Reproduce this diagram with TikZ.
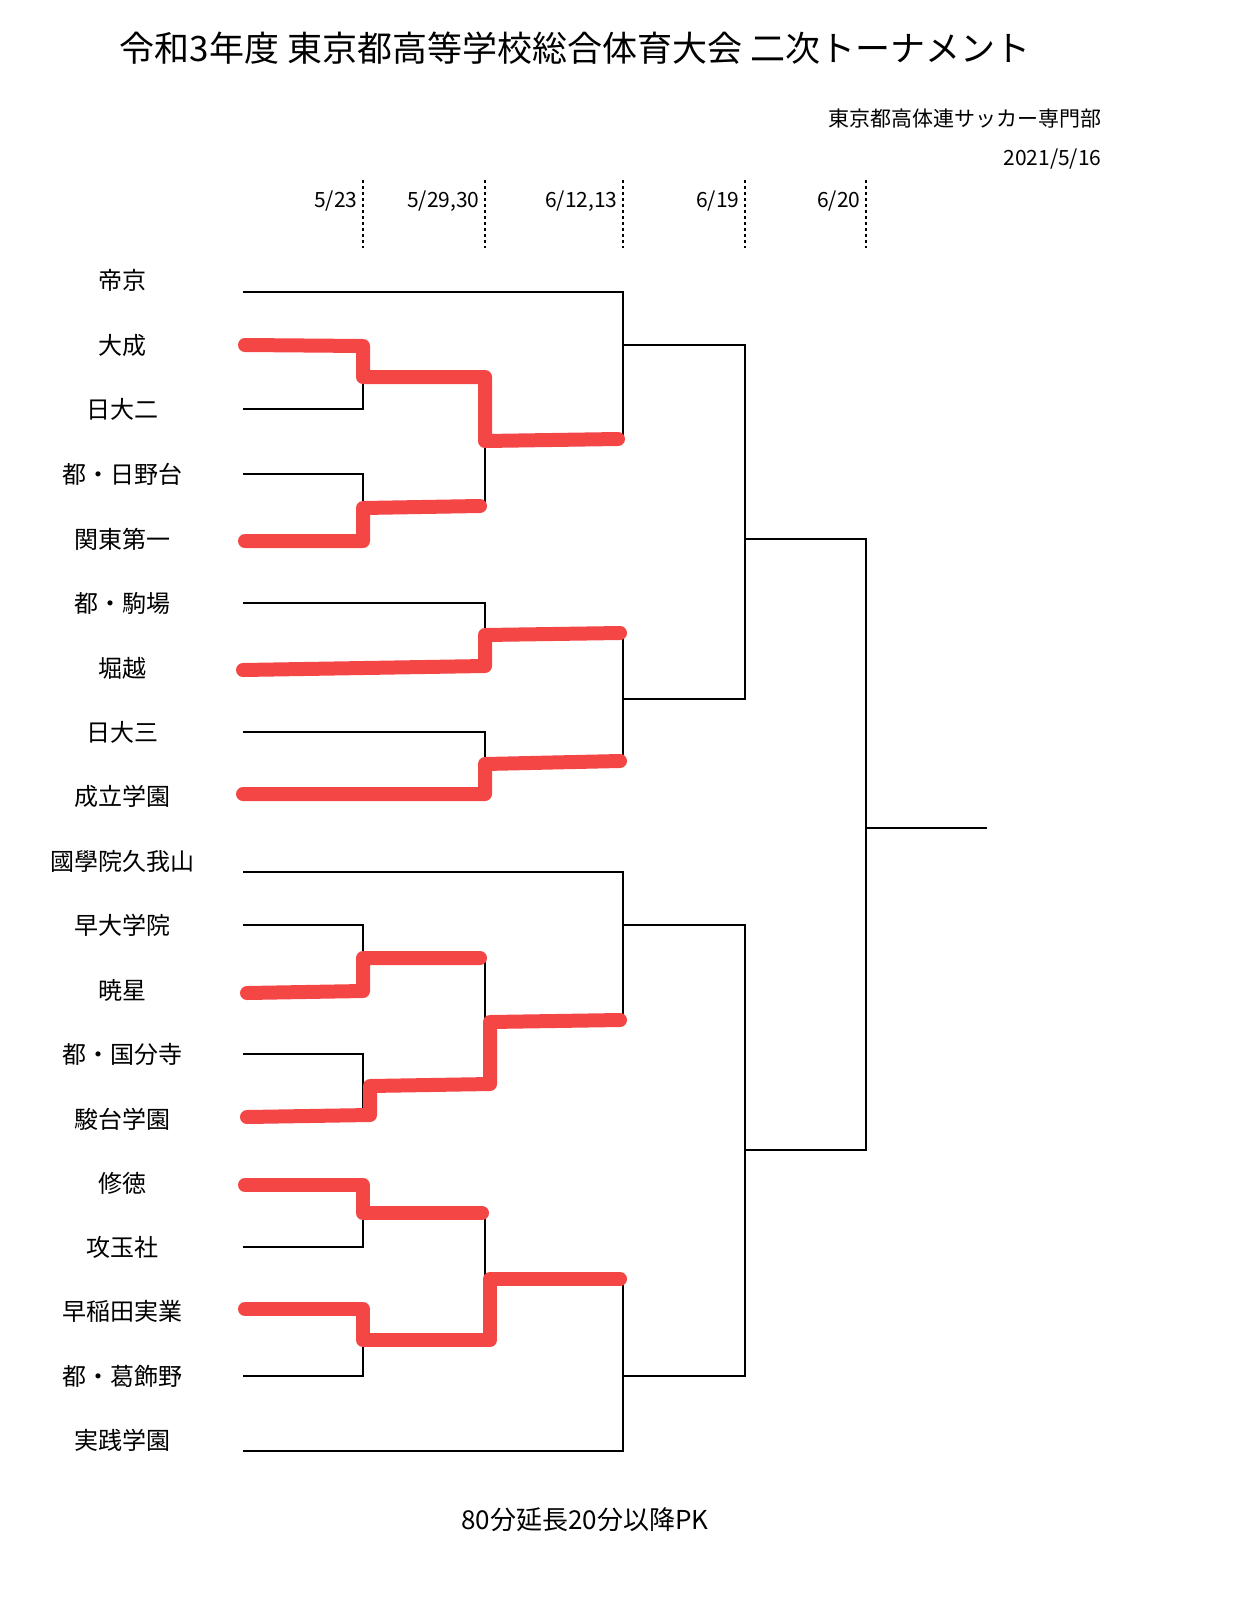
\documentclass[tikz,border=0pt]{standalone}
\usepackage{fontspec}
\newfontfamily\jp{Noto Sans CJK JP}
\begin{document}
\begin{tikzpicture}[x=1pt,y=-1pt,
  br/.style={line width=1.3pt,black},
  win/.style={line width=14pt,color={rgb,255:red,245;green,70;blue,70},line cap=round,line join=round},
  team/.style={font=\jp\fontsize{24}{26}\selectfont},
  dt/.style={font=\jp\fontsize{21}{23}\selectfont,anchor=east},
  dl/.style={dashed,line width=1.2pt}]
\fill[white] (0,0) rectangle (1242,1600);
\node[font=\jp\fontsize{35}{38}\selectfont] (title) at (575,48) {令和3年度 東京都高等学校総合体育大会 二次トーナメント};
\node[font=\jp\fontsize{21}{23}\selectfont,anchor=east] (dep) at (1105,119) {東京都高体連サッカー専門部};
\node[font=\jp\fontsize{21}{23}\selectfont,anchor=east] (day) at (1105,159) {2021/5/16};
\foreach \x/\t in {363/{5/23},485/{5/29,30},623/{6/12,13},745/{6/19},866/{6/20}}{
  \node[dt] at (\x-2,201) {\t};
  \draw[dl] (\x,180) -- (\x,248);
}
\foreach \y/\t in {280/帝京,345/大成,409/日大二,474/都・日野台,539/関東第一,603/都・駒場,668/堀越,732/日大三,796/成立学園,861/國學院久我山,925/早大学院,990/暁星,1054/都・国分寺,1119/駿台学園,1183/修徳,1247/攻玉社,1311/早稲田実業,1376/都・葛飾野,1440/実践学園}
  \node[team] at (122,\y) {\t};
\foreach \a/\b in {345/409,474/539,925/990,1054/1119,1183/1247,1311/1376}{
  \draw[br] (243,\a) -- (363,\a) -- (363,\b) -- (243,\b);
}
\foreach \a/\b in {603/668,732/796}{
  \draw[br] (243,\a) -- (485,\a) -- (485,\b) -- (243,\b);
}
\draw[br] (363,377) -- (485,377) -- (485,506) -- (363,506);
\draw[br] (363,958) -- (485,958) -- (485,1086) -- (363,1086);
\draw[br] (363,1215) -- (485,1215) -- (485,1343) -- (363,1343);
\draw[br] (243,292) -- (623,292) -- (623,441) -- (485,441);
\draw[br] (485,635) -- (623,635) -- (623,764) -- (485,764);
\draw[br] (243,872) -- (623,872) -- (623,1022) -- (485,1022);
\draw[br] (485,1279) -- (623,1279) -- (623,1451) -- (243,1451);
\draw[br] (623,345) -- (745,345) -- (745,699) -- (623,699);
\draw[br] (623,925) -- (745,925) -- (745,1376) -- (623,1376);
\draw[br] (745,539) -- (866,539) -- (866,1150) -- (745,1150);
\draw[br] (866,828) -- (987,828);
\draw[win] (245,345) -- (363,346) -- (363,377) -- (485,377) -- (485,441) -- (618,439);
\draw[win] (245,541) -- (363,541) -- (363,508) -- (480,506);
\draw[win] (243,670) -- (485,666) -- (485,635) -- (620,633);
\draw[win] (243,794) -- (485,794) -- (485,764) -- (620,761);
\draw[win] (247,993) -- (363,991) -- (363,958) -- (480,958);
\draw[win] (247,1117) -- (370,1115) -- (370,1086) -- (490,1084) -- (490,1022) -- (620,1020);
\draw[win] (245,1185) -- (363,1185) -- (363,1213) -- (482,1213);
\draw[win] (245,1309) -- (363,1309) -- (363,1340) -- (490,1340) -- (490,1279) -- (620,1279);
\node[font=\jp\fontsize{26}{28}\selectfont] (foot) at (585,1520) {80分延長20分以降PK};
\end{tikzpicture}
\end{document}
